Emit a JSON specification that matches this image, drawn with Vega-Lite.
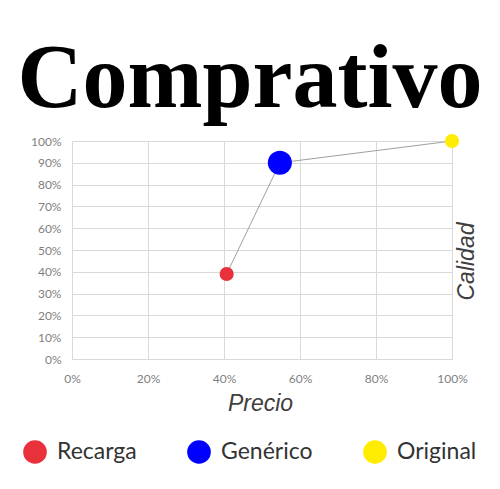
{
  "$schema": "https://vega.github.io/schema/vega-lite/v6.json",
  "width": 380,
  "height": 218,
  "autosize": "none",
  "padding": {"left": 72, "top": 141, "right": 48, "bottom": 130},
  "background": "white",
  "title": {
    "text": "Comprativo",
    "font": "Liberation Serif",
    "fontWeight": "bold",
    "fontSize": 90,
    "color": "black",
    "anchor": "middle",
    "baseline": "alphabetic",
    "dx": -12,
    "offset": -63
  },
  "data": {
    "values": [
      {"serie": "Recarga", "precio": 0.407, "calidad": 0.39},
      {"serie": "Genérico", "precio": 0.547, "calidad": 0.9},
      {"serie": "Original", "precio": 1.0, "calidad": 1.0}
    ]
  },
  "config": {
    "view": {"stroke": null},
    "axis": {
      "gridColor": "#d9d9d9",
      "domainColor": "#d9d9d9",
      "ticks": false,
      "labelColor": "#7f7f7f",
      "labelFont": "Lato",
      "labelFontSize": 12,
      "labelOverlap": false,
      "titleFont": "Liberation Sans",
      "titleFontStyle": "italic",
      "titleFontWeight": "normal",
      "titleFontSize": 23,
      "titleColor": "#404040"
    }
  },
  "encoding": {
    "x": {
      "field": "precio",
      "type": "quantitative",
      "scale": {"domain": [0, 1], "nice": false},
      "axis": {
        "tickCount": 5,
        "format": "%",
        "labelFlush": false,
        "labelPadding": 14,
        "title": "Precio",
        "titleX": 188,
        "titleY": 51,
        "titleAlign": "center",
        "titleBaseline": "alphabetic"
      }
    },
    "y": {
      "field": "calidad",
      "type": "quantitative",
      "scale": {"domain": [0, 1], "nice": false},
      "axis": {
        "tickCount": 11,
        "format": "%",
        "labelPadding": 11,
        "title": "Calidad",
        "titleAngle": 270,
        "titleX": 401,
        "titleY": 120,
        "titleAlign": "center",
        "titleBaseline": "alphabetic"
      }
    }
  },
  "layer": [
    {
      "mark": {"type": "line", "color": "#a0a0a0", "strokeWidth": 1},
      "encoding": {
        "order": {"field": "precio", "type": "quantitative"}
      }
    },
    {
      "mark": {"type": "point", "filled": true, "opacity": 1, "shape": "circle"},
      "encoding": {
        "color": {
          "field": "serie",
          "type": "nominal",
          "scale": {
            "domain": ["Recarga", "Genérico", "Original"],
            "range": ["#e8313b", "#0000ff", "#ffec00"]
          },
          "legend": {
            "title": null,
            "orient": "none",
            "direction": "horizontal",
            "legendX": -49,
            "legendY": 299,
            "symbolType": "circle",
            "symbolSize": 560,
            "symbolStrokeWidth": 0,
            "symbolOpacity": 1,
            "labelFont": "Lato",
            "labelFontSize": 23,
            "labelColor": "#333333",
            "labelOffset": 10,
            "columnPadding": 50,
            "encode": {"symbols": {"update": {"size": {"value": 560}}}}
          }
        },
        "size": {
          "condition": {"test": "datum.serie === 'Genérico'", "value": 580},
          "value": 200
        }
      }
    }
  ]
}
